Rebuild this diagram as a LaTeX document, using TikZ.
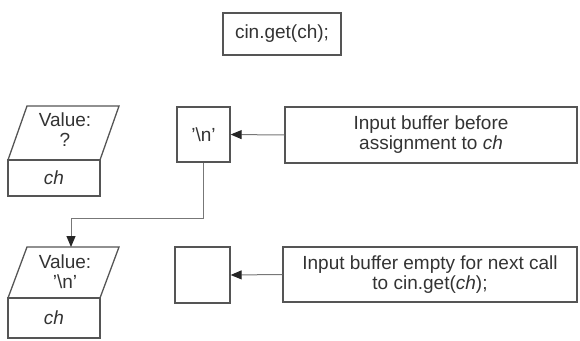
\documentclass[tikz,border=0pt]{standalone}
\usepackage{fontspec}
\setmainfont{Liberation Sans}
\usetikzlibrary{arrows.meta}
\definecolor{edge}{HTML}{555555}
\definecolor{conn}{HTML}{777777}
\begin{document}
\begin{tikzpicture}[x=1pt,y=-1pt,
  txt/.style={font=\fontsize{19}{20}\selectfont, text=black!80, align=center, inner sep=0pt},
  box/.style={draw=edge, line width=1.3pt, minimum width=#1, inner sep=0pt},
  shape1/.style={draw=edge, line width=1.3pt},
  arr/.style={draw=conn, line width=1pt, -{Triangle[length=11pt,width=9pt,color=black!85]}}]
\useasboundingbox (0,0) rectangle (580,340);

% top box
\node[box=118pt, minimum height=42pt, txt] (top) at (282,34) {cin.get(ch);};

% top-left parallelogram and ch box
\draw[shape1] (8,160) -- (27,106) -- (119,106) -- (100,160) -- cycle;
\node[txt] (v1) at (65,130) {Value:\\?};
\node[box=92pt, minimum height=36pt, txt] (ch1) at (54,178) {\itshape ch};

% \n box and description
\node[box=53pt, minimum height=55pt, txt] (n1) at (203.5,134.5) {'\textbackslash n'};
\node[box=292pt, minimum height=56pt, txt] (r1) at (431,135) {Input buffer before\\assignment to \itshape ch};
\draw[arr] (r1.west) -- (n1.east);

% bottom parallelogram and ch box
\draw[shape1] (8,298) -- (27,247) -- (119,247) -- (100,298) -- cycle;
\coordinate (p2top) at (71,247);
\node[txt] (v2) at (65,272) {Value:\\'\textbackslash n'};
\node[box=92pt, minimum height=40pt, txt] (ch2) at (54,318) {\itshape ch};

% empty box and description
\node[box=55pt, minimum height=56pt] (n2) at (202.5,275) {};
\node[box=294pt, minimum height=55pt, txt] (r2) at (430,274.5) {Input buffer empty for next call\\to cin.get({\itshape ch});};
\draw[arr] (r2.west) -- (n2.east);

% connector
\draw[arr] (n1.south) -- (n1.south |- 0,218) -- (p2top |- 0,218) -- (p2top);
\end{tikzpicture}
\end{document}
